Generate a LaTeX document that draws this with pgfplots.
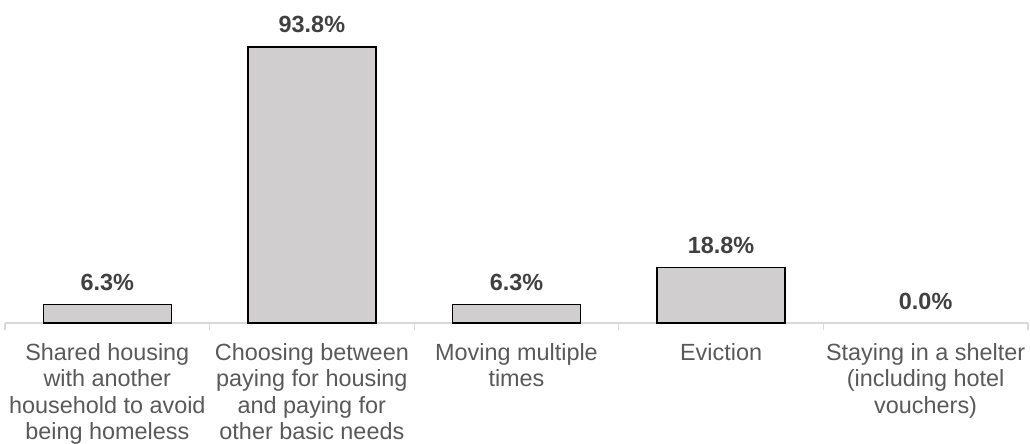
\documentclass[border=0pt]{standalone}
\usepackage{fontspec}
\setmainfont{Liberation Sans}
\usepackage{pgfplots}
\pgfplotsset{compat=1.18}
\definecolor{barfill}{HTML}{D0CECE}
\definecolor{axgray}{HTML}{D9D9D9}
\definecolor{lblgray}{HTML}{595959}
\definecolor{valgray}{HTML}{404040}
\begin{document}
\begin{tikzpicture}
\begin{axis}[
  at={(0,0)}, anchor=south west,
  scale only axis, width=1023bp, height=294.2bp,
  xmin=-0.5, xmax=4.5, ymin=0, ymax=100,
  axis x line*=bottom, hide y axis,
  x axis line style={axgray, line width=1.3bp},
  xtick={0,1,2,3,4},
  xticklabels={{Shared housing\\with another\\household to avoid\\being homeless},
               {Choosing between\\paying for housing\\and paying for\\other basic needs},
               {Moving multiple\\times},
               {Eviction},
               {Staying in a shelter\\(including hotel\\vouchers)}},
  major tick length=0pt,
  minor xtick={-0.5,0.5,1.5,2.5,3.5,4.5},
  minor tick length=7bp,
  tick align=outside,
  minor tick style={axgray, line width=1.3bp},
  xticklabel style={font=\fontsize{23.5}{26.7}\selectfont, text=lblgray, align=center, anchor=north, inner sep=0pt, yshift=-20bp},
  ybar, bar width=128bp,
  clip=false,
  /pgf/number format/assume math mode=true,
  nodes near coords={\pgfmathprintnumber[fixed,fixed zerofill,precision=1]{\pgfplotspointmeta}\%},
  every node near coord/.append style={font=\fontsize{23.5}{26.7}\selectfont\bfseries, text=valgray, yshift=10bp},
]
\addplot[bar shift=0pt, fill=barfill, draw=black, line width=1.3bp] coordinates {(0,6.3) (1,93.8) (2,6.3) (3,18.8)};
\addplot[bar shift=0pt, draw=none, fill=none] coordinates {(4,0)};
\end{axis}
\pgfresetboundingbox
\path[use as bounding box] (-5bp,-121bp) rectangle (1025bp,323bp);
\end{tikzpicture}
\end{document}
